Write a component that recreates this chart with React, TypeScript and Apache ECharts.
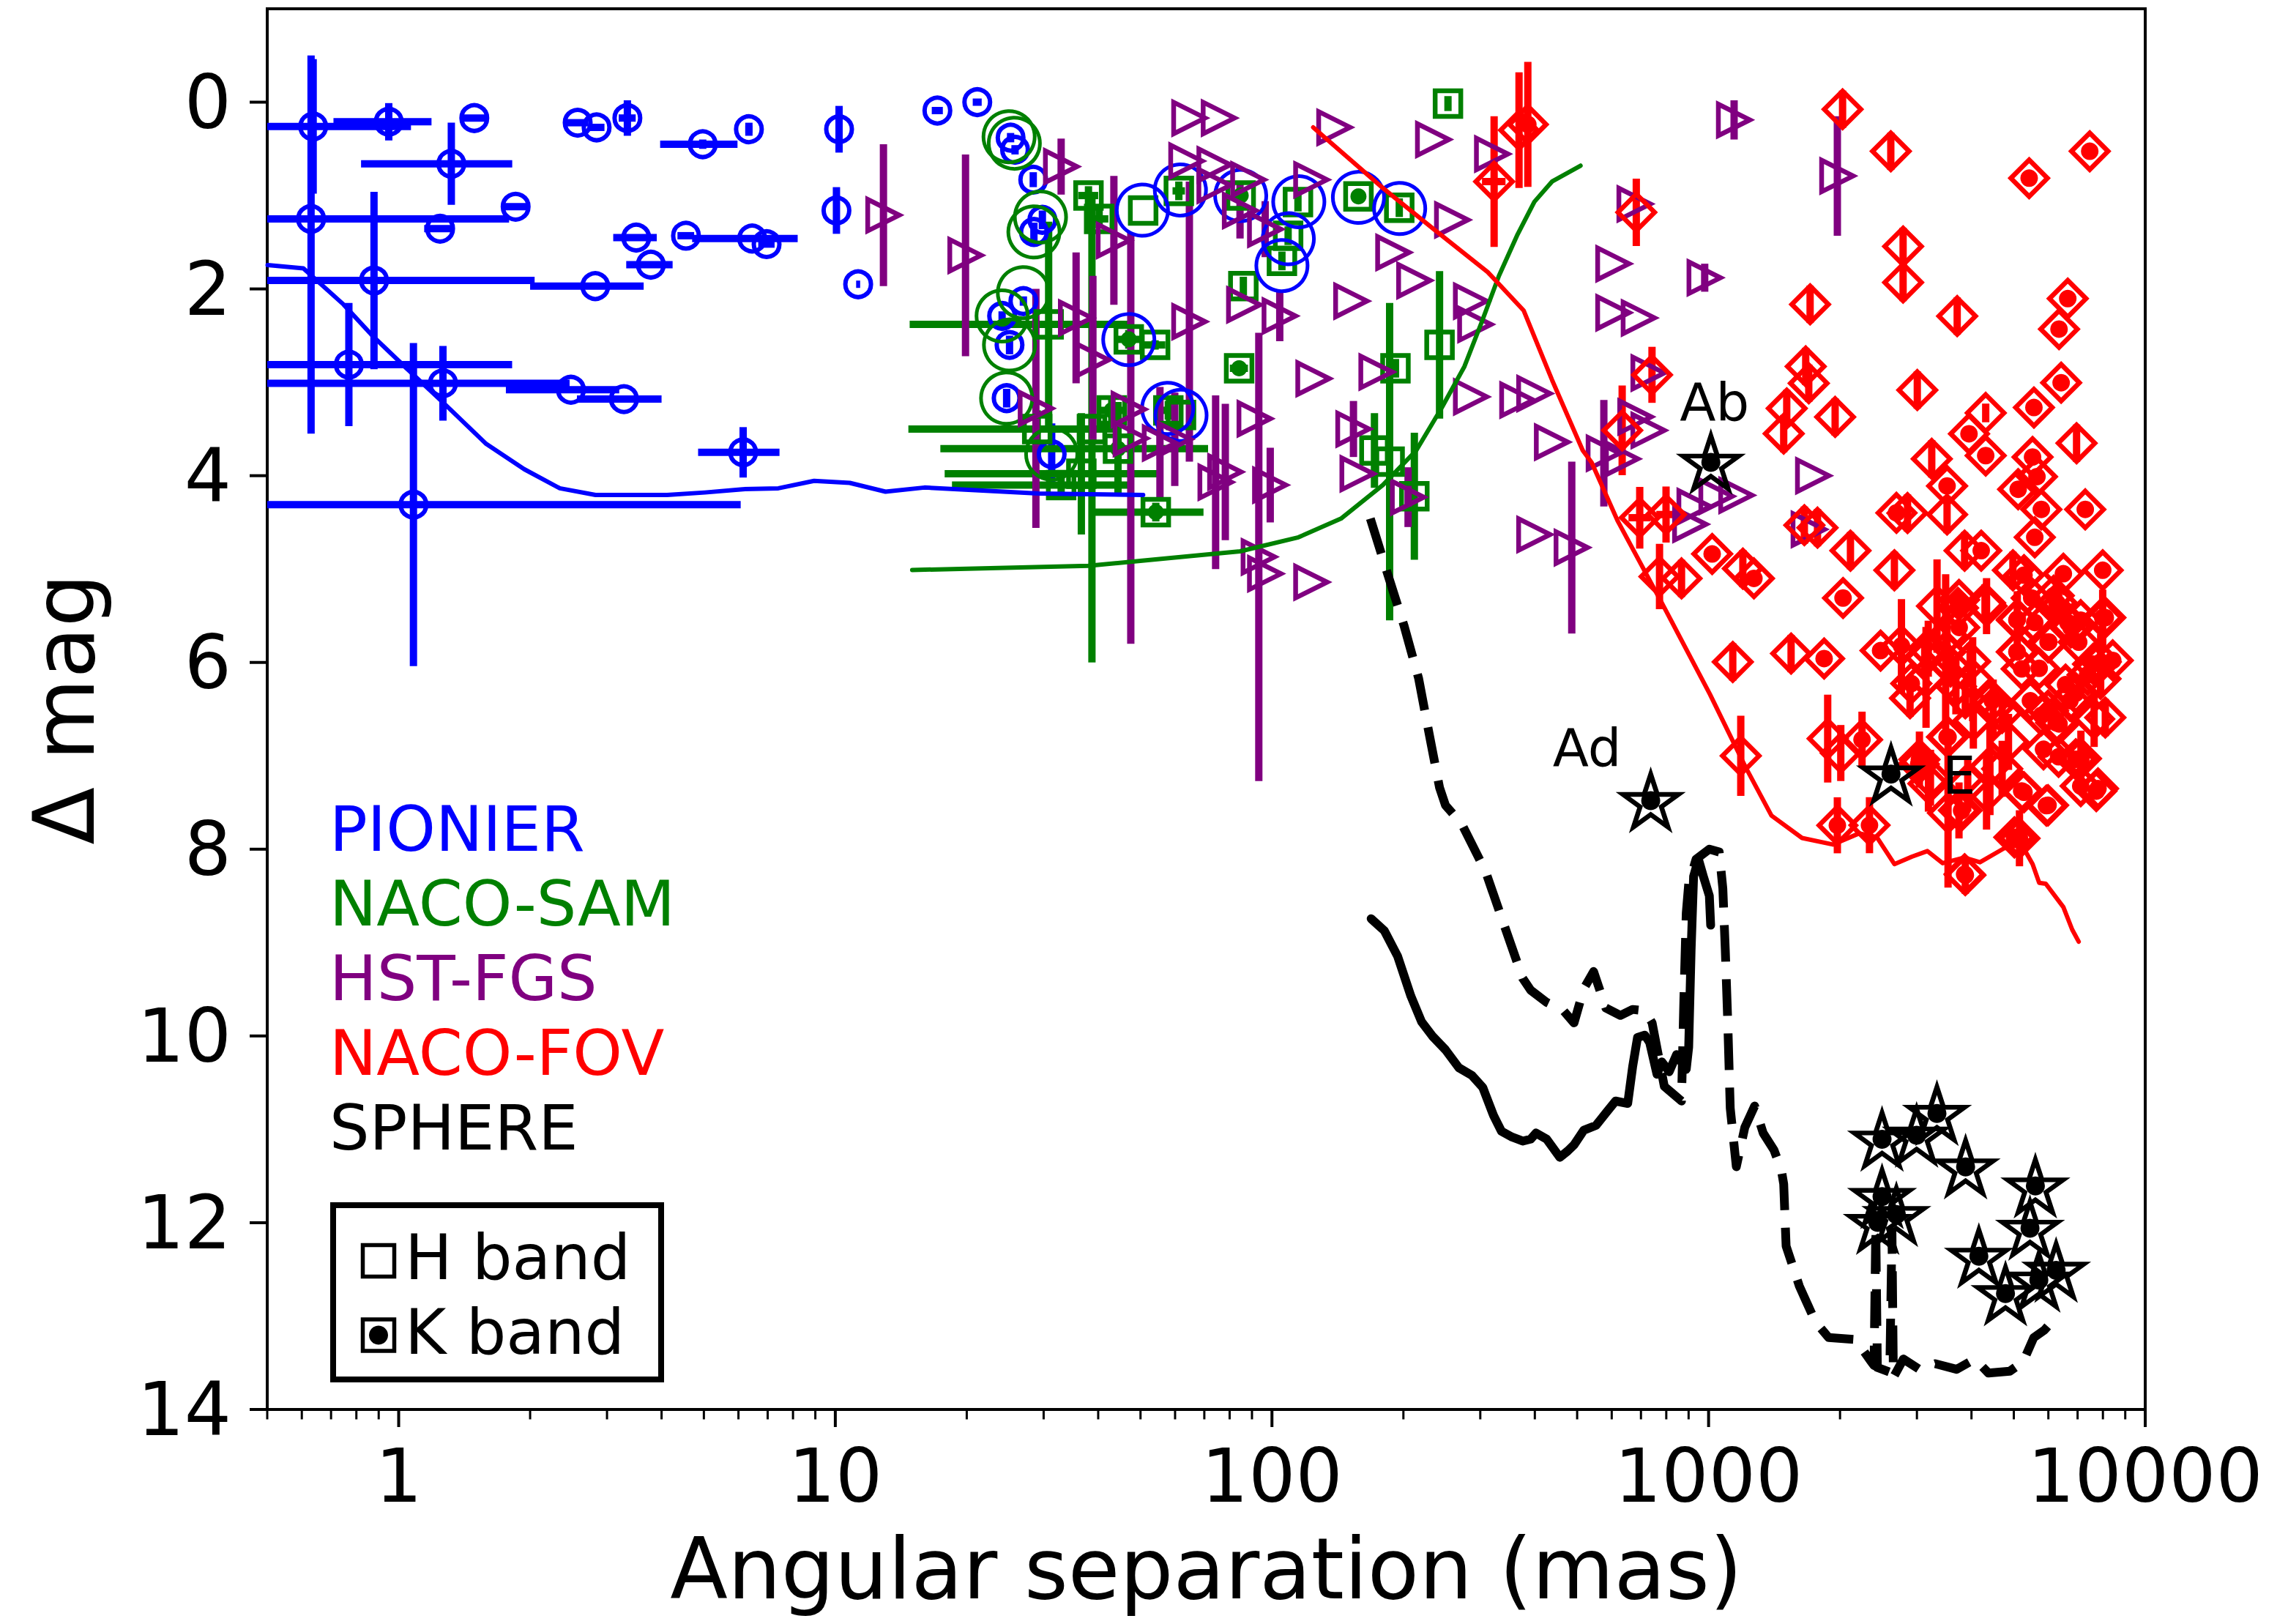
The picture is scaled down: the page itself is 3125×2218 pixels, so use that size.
import React, { useEffect, useRef } from 'react';
import * as echarts from 'echarts';

const FONT = '"DejaVu Sans", "Liberation Sans", sans-serif';
const BLUE = '#0000ff';
const GREEN = '#008000';
const PURPLE = '#800080';
const RED = '#ff0000';
const BLACK = '#000000';

// ---- detection-limit curves: [separation (mas), delta mag]
const pionierLimit = [[0.501,1.744],[0.605,1.78],[0.747,2.165],[0.873,2.507],[1.042,2.85],[1.271,3.227],[1.587,3.66],[1.938,3.93],[2.339,4.135],[2.824,4.206],[4.117,4.206],[5.025,4.18],[6.135,4.145],[7.406,4.135],[8.94,4.056],[10.79,4.077],[13.03,4.171],[16.0,4.127],[29.2,4.19],[50.7,4.206]];
const nacoSamLimit = [[15.0,5.01],[38.0,4.965],[84.5,4.81],[115,4.66],[143.9,4.46],[179.5,4.1],[214,3.73],[245,3.27],[276,2.83],[302,2.36],[331,1.86],[364,1.43],[399,1.067],[438,0.85],[509,0.68]];
const nacoFovLimit = [[124.3,0.27],[179.5,0.92],[234,1.355],[312,1.82],[377,2.23],[438,2.975],[515,3.73],[539.5,3.857],[620,4.49],[781,5.36],[1007,6.34],[1212,7.11],[1393,7.64],[1637,7.88],[1926,7.95],[2213,7.83],[2427,7.87],[2664,8.16],[2922,8.08],[3170,8.02],[3436,8.15],[3857,8.09],[4183,8.14],[4753,7.99],[5212,7.95],[5522,8.16],[5717,8.36],[5919,8.37],[6494,8.62],[6802,8.86],[7042,8.99]];
const sphereSolid = [[168.7,8.745],[180.9,8.873],[194.1,9.149],[208.1,9.574],[220.2,9.85],[232.8,9.999],[249.7,10.148],[267.9,10.34],[287.3,10.424],[304,10.552],[321.6,10.85],[335.4,11.02],[354.7,11.083],[375.2,11.126],[391.4,11.105],[402.5,11.04],[425.7,11.105],[456.5,11.3],[476.2,11.23],[491.8,11.167],[517.8,11.01],[552.3,10.958],[581.5,10.827],[612.3,10.697],[652.8,10.723],[669.9,10.331],[687.4,10.017],[714.4,9.991],[732.8,10.069],[761.7,10.41],[781.6,10.278],[812.4,10.383],[844.5,10.2],[888.9,10.357],[900.4,10.12],[912,9.076],[924,8.29],[948,8.108],[972.7,8.29],[1004,8.5],[1011,8.814]];
const sphereDashed = [[168,4.46],[183.4,5.03],[200.5,5.6],[216.7,6.17],[229,6.76],[242,7.34],[249.7,7.53],[271.7,7.725],[308.3,8.235],[340.1,8.81],[375.2,9.383],[391.4,9.51],[425.7,9.64],[463.3,9.72],[491.8,9.86],[517.8,9.494],[545.3,9.31],[581.5,9.7],[628.1,9.78],[669.9,9.716],[714.4,9.73],[742.5,9.86],[791.7,10.54],[866.8,10.697],[877.9,9.6],[888.9,8.684],[900.4,8.37],[936.1,8.108],[1004,8.0],[1057.5,8.03],[1078,8.42],[1092,9.076],[1106.5,9.86],[1121,10.775],[1157.5,11.4],[1210.5,10.98],[1274.8,10.75],[1333.6,11.04],[1411,11.22],[1467,11.43],[1486,11.585],[1505,12.25],[1614,12.68],[1756,13.06],[1884,13.23],[2169,13.25],[2359,13.49],[2393,13.53],[2415,12.05],[2435,13.55],[2600,13.6],[2630,12.1],[2650,13.656],[2793,13.46],[3038,13.57],[3304,13.51],[3697,13.57],[4077,13.46],[4374,13.61],[4895,13.59],[5252,13.49],[5555,13.23],[5875,13.15],[6216,13.02]];

// ---- detections: [sep, dmag, sepErr, dmagErr(-), dmagErr(+ optional)]
const pionier = [
  [0.637,0.26,0.43,0.72],[0.949,0.21,0.24,0.2],[1.49,0.17,0.1,0],[2.57,0.22,0.15,0],[2.84,0.27,0.12,0],
  [3.34,0.17,0.15,0.19],[4.97,0.45,1.0,0.05],[6.34,0.29,0.12,0.07],[10.2,0.29,0.1,0.25],[1.32,0.66,0.5,0.44],
  [0.63,1.25,1.16,1.75,2.3],[0.878,1.91,1.17,0.95],[1.244,1.355,0.1,0],[1.853,1.12,0.12,0],[2.82,1.97,0.82,0],
  [3.5,1.45,0.4,0],[4.55,1.43,0.2,0],[3.78,1.74,0.46,0],[6.45,1.46,1.75,0],[6.96,1.52,0.3,0],
  [10.06,1.16,0.1,0.25],[11.28,1.95,0.12,0],[0.769,2.81,1.05,0.66],[1.263,3.01,1.2,0.4],[1.081,4.31,4.99,1.73],
  [2.48,3.08,0.72,0],[3.28,3.18,0.72,0],[6.15,3.75,1.3,0.27],[17.13,0.09,0.5,0],[21.14,0.0,0.5,0],
  [25.2,0.38,0.3,0.05],[25.8,0.51,0.3,0.05],[28.4,0.83,0.3,0.08],[29.8,1.26,0.3,0.1],[28.5,1.39,0.3,0.1],
  [26.96,2.13,0.3,0.05],[24.1,2.29,0.3,0.05],[25.06,2.6,0.4,0.1],[24.68,3.17,0.4,0.1],[31.3,3.77,0.2,0.33],
];
const pionierRings = [[25.0,0.37],[25.7,0.44],[29.5,1.23],[28.5,1.39],[26.96,2.04],[24.1,2.29],[25.06,2.6],[24.68,3.17],[31.3,3.77]];
const nacoSamRings = [[50.5,1.157],[61.7,0.94],[84.8,1.0],[115.2,1.067],[109,1.463],[105.4,1.75],[157.8,1.02],[196.1,1.139],[47,2.543],[57.7,3.28],[61.9,3.353]];

const nacoSamH = [
  [253,0.015,0,0.08],[38.0,1.0,2,0.1],[40.2,1.25,2,0.1],[50.7,1.16,0,0],[61.2,0.95,2,0.1],
  [114.7,1.07,0,0.1],[108.9,1.43,0,0.1],[105.4,1.7,0,0.1],[195.7,1.13,0,0.1],[86,1.97,1,0.1],
  [54,2.6,3,0.05],[242,2.6,0,0.79],[191.8,2.85,0,0.1],[57.9,3.3,2,0.1],[61.9,3.35,0,0],
  [171.7,3.73,0,0.4],[186,3.85,0,1.7],[32.9,4.1,14.4,0.15],[211.9,4.22,0,0.68],[30.8,2.38,16,1.1],
  [29,3.5,14.3,0.2],[36.6,3.98,18.8,0.65],[38.7,3.5,2,2.5],
];
const nacoSamK = [
  [84.8,1.0,0,0.05],[157.8,1.01,0,0.05],[47.0,2.54,3,0.1],[84.1,2.85,4,0.05],[42.97,3.3,3,0.15],
  [44.4,3.71,27,0.5],[54.2,4.39,15.5,0.1],
];

const hstFgs = [
  [12.89,1.21,0,0.76],[19.87,1.64,0,1.08],[32.9,0.69,0,0.3],[35.6,2.31,0,0.7],[43.45,1.48,0,0.69],
  [64.7,0.17,0,0],[75.6,0.17,0,0],[63.7,0.63,0,0],[73.9,0.67,0,0],[88.3,0.83,0,0],
  [139,0.27,0,0],[234,0.4,0,0],[319.4,0.555,0,0],[123.1,0.83,0,0],[73.9,0.89,0,0],
  [84.5,1.16,0,0.3],[96.5,1.36,0,0.3],[189.7,1.61,0,0],[258.7,1.26,0,0],[211.9,1.91,0,0],
  [152,2.13,0,0],[285.8,2.13,0,0],[292.3,2.38,0,0],[86.4,2.17,0,0],[104.2,2.29,0,0.27],
  [64.7,2.35,0,1.5],[124.5,2.96,0,0],[173.6,2.89,0,0],[285.8,3.155,0,0],[364.8,3.19,0,0],
  [91.3,3.39,0,0],[38.9,2.76,0,0.9],[28.8,3.28,0,1.28],[47.5,3.6,0,2.2],[59.9,3.61,0,0.5],
  [153.7,3.5,0,0.3],[157.1,3.98,0,0],[74.3,4.07,0,0.93],[78.2,3.96,0,0.73],[99.1,4.1,0,0.4],
  [205,4.23,0,0.32],[93.3,4.87,0,2.4],[96.5,5.05,0,0],[123.1,5.14,0,0],[55.4,3.65,0,0.6],[47,3.29,0,0],
  [1144,0.19,0,0.21],[1972,0.79,0,0.64],[677,1.09,0,0],[605.3,1.73,0,0],[605.3,2.255,0,0],
  [692.3,2.31,0,0],[979.7,1.88,0,0.15],[399,3.12,0,0],[438,3.64,0,0],[728.8,2.9,0,0],
  [680,3.37,0,0],[728.8,3.515,0,0],[575.6,3.76,0,0.57],[634,3.82,0,0],[1736,4.0,0,0],
  [1043,4.22,0,0],[929,4.33,0,0],[908,4.52,0,0],[1696,4.575,0,0],[399,4.63,0,0],[486,4.77,0,0.92],[1158,4.21,0,0],
];

const nacoFovH = [
  [368,0.3,0,0.62],[322.7,0.85,20,0.7],[683,1.18,0,0.36],[742,2.92,0,0.3],[634,3.515,0,0.48],
  [2027,0.076,0,0.2],[2614,0.526,0,0.2],[2789,1.545,0,0.2],[2789,1.931,0,0.2],[1708,2.165,0,0.2],
  [3710,2.291,0,0.2],[1669,2.83,0,0.2],[1696,3.01,0,0.2],[1510,3.28,0,0.2],[1486,3.55,0,0.2],
  [1949,3.371,0,0.2],[3006,3.083,0,0.2],[4312,3.328,0,0.1],[3244,3.82,0,0.2],[6962,3.652,0,0.2],
  [3517,4.416,0,0.2],[695.5,4.45,40,0.33],[799,4.416,40,0.3],[772,5.08,0,0.35],[867,5.1,0,0.2],
  [1198,4.995,0,0.2],[1657,4.53,0,0.2],[1776,4.557,0,0.2],[2113,4.803,0,0.2],[2664,5.013,0,0.2],
  [2855,4.4,0,0.2],[3858,4.803,0,0.2],[4977,5.013,0,0.2],[1545,5.905,0,0.2],[1136,5.995,0,0.2],
  [1185,7.0,0,0.43],[1874,6.816,0,0.47],[2008,6.97,0,0.3],[2893,6.383,0,0.2],[3126,5.94,0,0.2],
  [3491,5.886,0,0.83],[3582,6.043,0,0.2],[3972,5.99,0,0.2],[4296,5.363,0,0.2],[3872,6.383,0,0.2],
  [4703,6.54,0,0.2],[7897,6.174,0,0.2],[8102,6.59,0,0.2],[4703,7.139,0,0.3],[4409,7.115,0,0.52],
  [3922,7.298,0,0.3],[3535,7.612,0,0.8],[3188,7.298,0,0.3],[3336,5.397,0,0.5],[4331,5.397,0,0.3],
  [3517,5.713,0,0.3],[3185,5.853,0,0.3],[3222,7.235,0,0.3],[3745,7.585,0,0.3],[4331,7.39,0,0.4],
  [7638,6.605,0,0.3],[4485,6.483,0,0.3],[4040,6.623,0,0.3],[3685,6.256,0,0.3],[4862,6.851,0,0.3],
  [3148,6.16,0,0.54],[4025,6.18,0,0.45],
];
const nacoFovK = [
  [385.5,0.238,0,0.67],[7463,0.526,0,0],[5422,0.814,0,0],[6646,2.104,0,0],[6347,2.43,0,0],
  [6418,3.004,0,0],[5560,3.27,0,0],[3948,3.551,0,0],[4312,3.785,0,0],[5520,3.8,0,0],
  [5650,4.01,0,0],[5117,4.145,0,0],[3517,4.11,0,0],[7289,4.361,0,0],[2693,4.398,0,0],
  [5781,4.361,0,0],[1019,4.838,0,0],[1270,5.1,0,0],[2032,5.31,0,0],[4211,4.803,0,0],
  [5585,4.66,0,0],[1839,5.958,0,0],[1972,7.744,0,0.3],[2477,5.873,0,0],[2765,5.821,0,0.5],
  [2912,6.226,0,0],[3724,5.416,0,0],[3749,5.625,0,0],[4464,6.41,0,0],[5082,5.547,0,0],
  [5082,5.886,0,0],[5212,6.069,0,0],[5495,5.31,0,0],[6171,5.285,0,0],[8102,5.52,0,0],
  [8425,5.978,0,0],[7117,5.547,0,0],[6757,5.625,0,0],[6014,5.78,0,0],[7596,6.017,0,0],
  [5786,6.566,0,0],[6253,6.645,0,0],[6935,6.33,0,0],[6333,7.01,0,0],[6935,7.037,0,0],
  [7795,7.35,0,0],[7117,7.324,0,0],[5938,7.533,0,0],[5212,7.376,0,0],[5016,7.873,0,0],
  [3535,6.8,0,0],[3797,7.586,0,0],[3028,7.089,0,0],[2246,6.827,0,0.3],[2336,7.743,0,0.3],
  [3872,8.278,0,0.2],[5277,5.065,0,0],[6494,5.05,0,0],[7991,5.013,0,0],[3745,5.33,0,0],
  [6275,5.362,0,0],[5716,6.063,0,0],[6570,6.238,0,0],[7379,6.133,0,0],[5277,7.39,0,0],
  [5848,6.93,0,0],[7725,7.378,0,0],[5458,6.41,0,0],[5990,6.517,0,0],[6724,6.41,0,0],
  [5093,5.537,0,0.3],[5585,5.572,0,0],[6646,5.572,0,0],[7991,5.52,0,0.3],[7042,5.783,0,0],
  [7906,5.995,0,0.3],[5990,5.783,0,0],[5093,5.888,0,0],[7124,7.03,0,0.3],[5990,7.53,0,0],
  [5152,7.883,0,0.3],[6347,6.658,0,0],[3517,6.798,0,0],[3040,7.04,0,0.3],[3858,8.268,0,0],
];

const sphere = [[1012,3.857],[737,7.48],[2617,7.196],[3334,10.83],[2496,11.106],[2995,11.063],[3878,11.403],[5603,11.607],[2496,11.72],[2692,11.913],[2440,11.997],[5446,12.06],[4159,12.36],[6250,12.51],[5706,12.615],[4786,12.76]];
const sphereNames = ['Ab', 'Ad', 'E'];
const sphereLabelOffsets = [[5, -82], [-87, -72], [93, 2]];

const instrumentNames = ['PIONIER', 'NACO-SAM', 'HST-FGS', 'NACO-FOV', 'SPHERE'];
const instrumentColors = [BLUE, GREEN, PURPLE, RED, BLACK];
const bandNames = ['H band', 'K band'];

const xMajorTicks = [1, 10, 100, 1000, 10000];
const xMinorTicks = [0.5,0.6,0.7,0.8,0.9,2,3,4,5,6,7,8,9,20,30,40,50,60,70,80,90,200,300,400,500,600,700,800,900,2000,3000,4000,5000,6000,7000,8000,9000];
const yTicks = [0, 2, 4, 6, 8, 10, 12, 14];

const STAR = 'path://M0,-1L0.2245,-0.309L0.9511,-0.309L0.3633,0.118L0.5878,0.809L0,0.382L-0.5878,0.809L-0.3633,0.118L-0.9511,-0.309L-0.2245,-0.309Z';
const NONE = 'rgba(0,0,0,0)';

function errSeries(rows: any[], color: string) {
  return {
    type: 'custom',
    clip: true,
    silent: true,
    encode: { x: 0, y: 1 },
    data: rows.map((r) => [r[0], r[1], r[2] || 0, r[3] || 0, r[4] !== undefined ? r[4] : (r[3] || 0)]),
    renderItem: (params: any, api: any) => {
      const s = api.value(0), m = api.value(1), se = api.value(2), me = api.value(3), mp = api.value(4);
      const st = { stroke: color, lineWidth: 10, lineCap: 'butt' };
      const ch: any[] = [];
      if (se > 0) {
        const a = api.coord([Math.max(s - se, 0.001), m]);
        const b = api.coord([s + se, m]);
        ch.push({ type: 'line', shape: { x1: a[0], y1: a[1], x2: b[0], y2: b[1] }, style: st });
      }
      if (me > 0 || mp > 0) {
        const a = api.coord([s, m - me]);
        const b = api.coord([s, m + mp]);
        ch.push({ type: 'line', shape: { x1: a[0], y1: a[1], x2: b[0], y2: b[1] }, style: st });
      }
      return { type: 'group', children: ch };
    },
  };
}

function markSeries(rows: any[], symbol: string, size: any, color: string, bw: number, extra: any = {}) {
  return {
    type: 'scatter',
    silent: true,
    symbol,
    symbolSize: size,
    data: rows.map((r) => [r[0], r[1]]),
    itemStyle: { color: NONE, borderColor: color, borderWidth: bw, opacity: 1 },
    emphasis: { disabled: true },
    ...extra,
  };
}

function dotSeries(rows: any[], size: number, color: string) {
  return {
    type: 'scatter',
    silent: true,
    symbol: 'circle',
    symbolSize: size,
    data: rows.map((r) => [r[0], r[1]]),
    itemStyle: { color, borderWidth: 0, opacity: 1 },
    emphasis: { disabled: true },
  };
}

function lineSeries(data: any[], color: string, width: number, type: any = 'solid') {
  return {
    type: 'line',
    silent: true,
    data,
    symbol: 'none',
    showSymbol: false,
    clip: true,
    lineStyle: { color, width, type, cap: type === 'solid' ? 'round' : 'butt', join: 'round', opacity: 1 },
    emphasis: { disabled: true },
  };
}

function tickSeries(vals: number[], major: boolean, axis: 'x' | 'y') {
  return {
    type: 'custom',
    silent: true,
    clip: false,
    encode: { x: 0, y: 1 },
    data: vals.map((v) => (axis === 'x' ? [v, 14] : [0.5, v])),
    renderItem: (params: any, api: any) => {
      const c = api.coord([api.value(0), api.value(1)]);
      const len = major ? 24 : 13.5;
      const shape = axis === 'x'
        ? { x1: c[0], y1: c[1], x2: c[0], y2: c[1] + len }
        : { x1: c[0] - len, y1: c[1], x2: c[0], y2: c[1] };
      return { type: 'line', shape, style: { stroke: BLACK, lineWidth: major ? 4 : 3 } };
    },
  };
}

export default function App() {
  const ref = useRef<HTMLDivElement>(null);
  useEffect(() => {
    if (!ref.current) return;
    const chart = echarts.init(ref.current, null, { renderer: 'svg' });
    const legendBaseY = 1132;
    const legendStep = 102;
    const graphic: any[] = instrumentNames.map((n, i) => ({
      type: 'text',
      x: 450,
      y: legendBaseY + i * legendStep,
      silent: true,
      style: {
        text: n, fill: instrumentColors[i], fontSize: 86, fontFamily: FONT,
        align: 'left', verticalAlign: 'middle', textAlign: 'left', textVerticalAlign: 'middle',
      },
    }));
    graphic.push({
      type: 'rect', silent: true,
      shape: { x: 455, y: 1646, width: 448, height: 238 },
      style: { fill: NONE, stroke: BLACK, lineWidth: 8 },
    });
    graphic.push({
      type: 'rect', silent: true,
      shape: { x: 495.5, y: 1700.5, width: 43, height: 43 },
      style: { fill: NONE, stroke: BLACK, lineWidth: 5.5 },
    });
    graphic.push({
      type: 'rect', silent: true,
      shape: { x: 495.5, y: 1802, width: 43, height: 43 },
      style: { fill: NONE, stroke: BLACK, lineWidth: 5.5 },
    });
    graphic.push({ type: 'circle', silent: true, shape: { cx: 517, cy: 1823.5, r: 13 }, style: { fill: BLACK } });
    bandNames.forEach((b, i) => {
      graphic.push({
        type: 'text', x: 553, y: 1716.7 + i * 102, silent: true,
        style: {
          text: b, fill: BLACK, fontSize: 86, fontFamily: FONT,
          align: 'left', verticalAlign: 'middle', textAlign: 'left', textVerticalAlign: 'middle',
        },
      });
    });

    const option: any = {
      animation: false,
      backgroundColor: '#ffffff',
      textStyle: { fontFamily: FONT },
      grid: {
        left: 365, right: 195, top: 12, bottom: 293,
        show: true, borderColor: BLACK, borderWidth: 4, backgroundColor: NONE,
        containLabel: false, outerBoundsMode: 'none',
      },
      xAxis: {
        type: 'log', logBase: 10, min: 0.5, max: 10000,
        name: 'Angular separation (mas)', nameLocation: 'middle', nameGap: 160,
        nameTextStyle: { fontSize: 115, color: BLACK, fontFamily: FONT },
        axisLine: { show: false },
        axisTick: { show: false },
        minorTick: { show: false },
        splitLine: { show: false },
        axisLabel: {
          fontSize: 101, color: BLACK, fontFamily: FONT, margin: 40,
          showMinLabel: true, showMaxLabel: true,
          formatter: (v: number) => {
            const l = Math.log10(v);
            return v >= 1 && Math.abs(l - Math.round(l)) < 1e-6 ? String(Math.round(v)) : '';
          },
        },
      },
      yAxis: {
        type: 'value', inverse: true, min: -1, max: 14, interval: 1,
        name: 'Δ mag', nameLocation: 'middle', nameGap: 220, nameRotate: 90,
        nameTextStyle: { fontSize: 115, color: BLACK, fontFamily: FONT },
        axisLine: { show: false },
        axisTick: { show: false },
        splitLine: { show: false },
        axisLabel: {
          fontSize: 101, color: BLACK, fontFamily: FONT, margin: 49,
          formatter: (v: number) => (v >= 0 && Math.round(v) % 2 === 0 ? String(Math.round(v)) : ''),
        },
      },
      graphic,
      series: [
        lineSeries(pionierLimit, BLUE, 6),
        lineSeries(nacoSamLimit, GREEN, 6),
        lineSeries(nacoFovLimit, RED, 6),
        lineSeries(sphereSolid, BLACK, 12),
        lineSeries(sphereDashed, BLACK, 12, [50, 24]),

        errSeries(pionier, BLUE),
        markSeries(pionier, 'circle', 35, BLUE, 6),

        errSeries(nacoSamH.concat(nacoSamK), GREEN),
        markSeries(nacoSamH, 'rect', 35, GREEN, 6.5),
        markSeries(nacoSamK, 'rect', 35, GREEN, 6.5),
        dotSeries(nacoSamK, 22, GREEN),

        markSeries(pionierRings, 'circle', 70, GREEN, 5),
        markSeries(nacoSamRings, 'circle', 70, BLUE, 5),

        errSeries(hstFgs, PURPLE),
        markSeries(hstFgs, 'triangle', 43, PURPLE, 6.5, { symbolRotate: -90 }),

        errSeries(nacoFovH.concat(nacoFovK), RED),
        markSeries(nacoFovH, 'diamond', 50, RED, 6.5),
        markSeries(nacoFovK, 'diamond', 50, RED, 6.5),
        dotSeries(nacoFovK, 24, RED),

        markSeries(sphere, STAR, [76, 72], BLACK, 6.5),
        dotSeries(sphere, 26, BLACK),
        {
          type: 'scatter', silent: true, symbol: 'circle', symbolSize: 1,
          itemStyle: { color: NONE, opacity: 1 },
          emphasis: { disabled: true },
          z: 5,
          label: {
            show: true, position: 'inside', formatter: '{b}', fontSize: 72, color: BLACK, fontFamily: FONT,
            textBorderWidth: 0, textBorderColor: NONE, opacity: 1, align: 'center', verticalAlign: 'middle',
          },
          data: sphereNames.map((n, i) => ({
            name: n, value: sphere[i],
            label: { offset: sphereLabelOffsets[i] },
          })),
        },

        tickSeries(xMajorTicks, true, 'x'),
        tickSeries(xMinorTicks, false, 'x'),
        tickSeries(yTicks, true, 'y'),
      ],
    };
    chart.setOption(option);
    return () => chart.dispose();
  }, []);
  return (
    <div
      ref={ref}
      style={{ position: 'fixed', left: 0, top: 0, width: 3125, height: 2218, background: '#fff' }}
    />
  );
}
